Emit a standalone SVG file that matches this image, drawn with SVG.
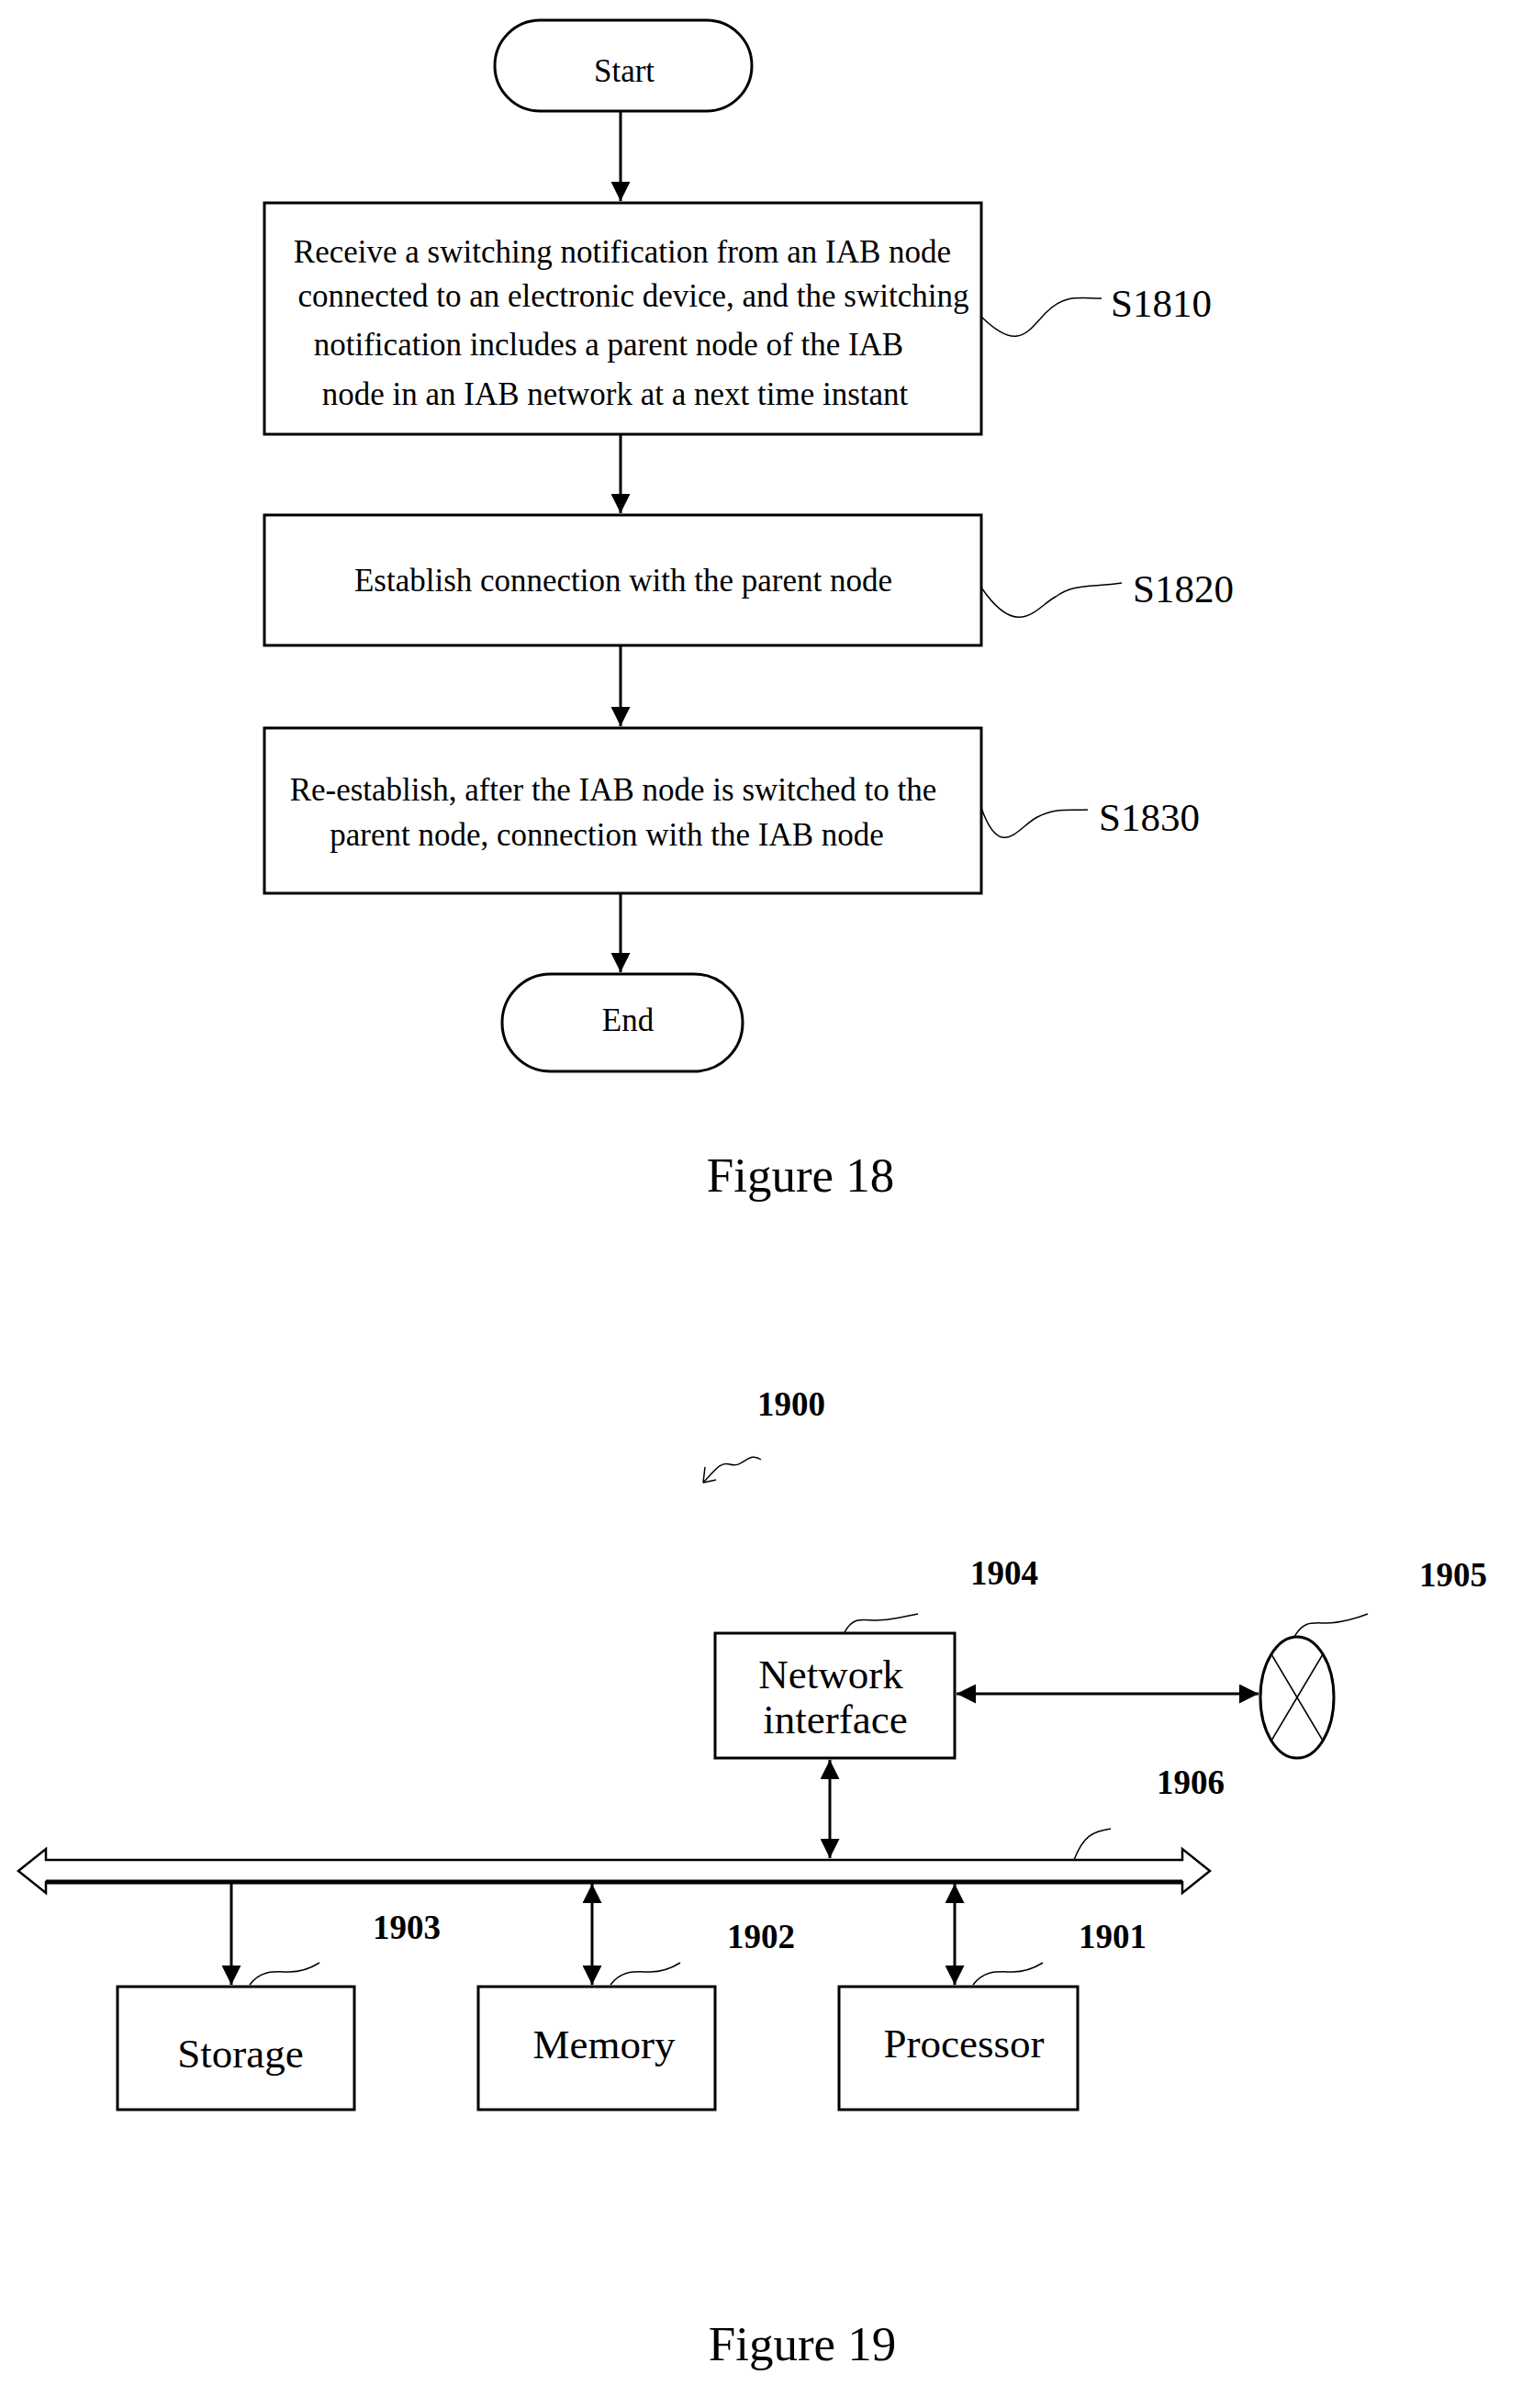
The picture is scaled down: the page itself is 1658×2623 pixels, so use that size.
<svg xmlns="http://www.w3.org/2000/svg" width="1658" height="2623" viewBox="0 0 1658 2623">
<defs>
<style>
.b{fill:#fff;stroke:#000;stroke-width:3}
.t{font-family:"Liberation Serif",serif;font-size:35px;fill:#000;text-anchor:middle}
.k{font-family:"Liberation Serif",serif;font-size:43px;fill:#000;text-anchor:middle}
.m{font-family:"Liberation Serif",serif;font-size:45px;fill:#000;text-anchor:middle}
.n{font-family:"Liberation Serif",serif;font-size:37px;font-weight:bold;fill:#000;text-anchor:middle}
.f{font-family:"Liberation Serif",serif;font-size:53px;fill:#000;text-anchor:middle}
.l{stroke:#000;stroke-width:3;fill:none}
.s{stroke:#000;stroke-width:1.5;fill:none}
</style>
<marker id="a" viewBox="0 0 10 10" refX="10" refY="5" markerWidth="7" markerHeight="7" orient="auto-start-reverse"><path d="M0,0 L10,5 L0,10 Z" fill="#000"/></marker>
</defs>
<rect width="1658" height="2623" fill="#fff"/>
<g id="connectors">
<line class="l" x1="676" y1="121" x2="676" y2="219" marker-end="url(#a)"/>
<line class="l" x1="676" y1="473" x2="676" y2="559" marker-end="url(#a)"/>
<line class="l" x1="676" y1="703" x2="676" y2="791" marker-end="url(#a)"/>
<line class="l" x1="676" y1="973" x2="676" y2="1059" marker-end="url(#a)"/>
<path class="s" d="M1069,345 C1110,385 1120,360 1140,340 C1160,320 1175,325 1200,325"/>
<path class="s" d="M1069,640 C1110,700 1130,660 1150,650 C1170,635 1190,640 1222,635"/>
<path class="s" d="M1069,880 C1090,940 1110,900 1130,890 C1150,880 1160,883 1185,882"/>
<line class="l" x1="1042" y1="1845" x2="1371" y2="1845" marker-start="url(#a)" marker-end="url(#a)"/>
<line class="l" x1="904" y1="1917" x2="904" y2="2024" marker-start="url(#a)" marker-end="url(#a)"/>
<line class="l" x1="252" y1="2052" x2="252" y2="2162" marker-end="url(#a)"/>
<line class="l" x1="645" y1="2052" x2="645" y2="2162" marker-start="url(#a)" marker-end="url(#a)"/>
<line class="l" x1="1040" y1="2052" x2="1040" y2="2162" marker-start="url(#a)" marker-end="url(#a)"/>
</g>
<g id="start"><rect class="b" x="539" y="22" width="280" height="99" rx="49.5"/><text class="t" x="680" y="89">Start</text></g>
<g id="s1810"><rect class="b" x="288" y="221" width="781" height="252"/>
<text class="t" x="678" y="286">Receive a switching notification from an IAB node</text>
<text class="t" x="690" y="334">connected to an electronic device, and the switching</text>
<text class="t" x="663" y="387">notification includes a parent node of the IAB</text>
<text class="t" x="670" y="441">node in an IAB network at a next time instant</text>
<text class="k" x="1265" y="345">S1810</text></g>
<g id="s1820"><rect class="b" x="288" y="561" width="781" height="142"/>
<text class="t" x="679" y="644">Establish connection with the parent node</text>
<text class="k" x="1289" y="656">S1820</text></g>
<g id="s1830"><rect class="b" x="288" y="793" width="781" height="180"/>
<text class="t" x="668" y="872">Re-establish, after the IAB node is switched to the</text>
<text class="t" x="661" y="921">parent node, connection with the IAB node</text>
<text class="k" x="1252" y="905">S1830</text></g>
<g id="end"><rect class="b" x="547" y="1061" width="262" height="106" rx="53"/><text class="t" x="684" y="1123">End</text></g>
<text class="f" x="872" y="1298">Figure 18</text>

<text class="n" x="862" y="1542">1900</text>
<path class="s" d="M829,1590 C815,1580 810,1600 795,1595 C785,1592 780,1600 766,1615"/>
<path d="M766,1615 L768,1598 M766,1615 L780,1612" class="s"/>
<g id="ni"><rect class="b" x="779" y="1779" width="261" height="136"/>
<text class="m" x="905" y="1839">Network</text>
<text class="m" x="910" y="1888">interface</text>
<text class="n" x="1094" y="1726">1904</text>
<path class="s" d="M920,1778 C930,1760 940,1765 955,1765 C970,1765 990,1760 1000,1758"/></g>
<g id="n1905"><ellipse class="b" cx="1413" cy="1849" rx="40" ry="66"/>
<line class="s" x1="1385" y1="1802" x2="1441" y2="1896"/><line class="s" x1="1441" y1="1802" x2="1385" y2="1896"/>
<text class="n" x="1583" y="1728">1905</text>
<path class="s" d="M1410,1783 C1420,1765 1430,1768 1445,1768 C1460,1768 1480,1762 1490,1758"/></g>
<g id="bus">
<path d="M20,2038 L50,2014 L50,2026 L1288,2026 L1288,2014 L1318,2038 L1288,2062 L1288,2050 L50,2050 L50,2062 Z" fill="#fff" stroke="#000" stroke-width="2.5"/>
<line x1="50" y1="2050" x2="1288" y2="2050" stroke="#000" stroke-width="5"/>
<text class="n" x="1297" y="1954">1906</text>
<path class="s" d="M1170,2026 C1180,2000 1190,1995 1210,1992"/></g>
<g id="storage"><rect class="b" x="128" y="2164" width="258" height="134"/><text class="m" x="262" y="2252">Storage</text>
<text class="n" x="443" y="2112">1903</text><path class="s" d="M272,2162 C285,2145 300,2148 315,2148 C330,2148 340,2143 348,2138"/></g>
<g id="memory"><rect class="b" x="521" y="2164" width="258" height="134"/><text class="m" x="658" y="2242">Memory</text>
<text class="n" x="829" y="2122">1902</text><path class="s" d="M665,2162 C678,2145 693,2148 708,2148 C723,2148 733,2143 741,2138"/></g>
<g id="processor"><rect class="b" x="914" y="2164" width="260" height="134"/><text class="m" x="1050" y="2241">Processor</text>
<text class="n" x="1212" y="2122">1901</text><path class="s" d="M1060,2162 C1073,2145 1088,2148 1103,2148 C1118,2148 1128,2143 1136,2138"/></g>
<text class="f" x="874" y="2571">Figure 19</text>
</svg>
